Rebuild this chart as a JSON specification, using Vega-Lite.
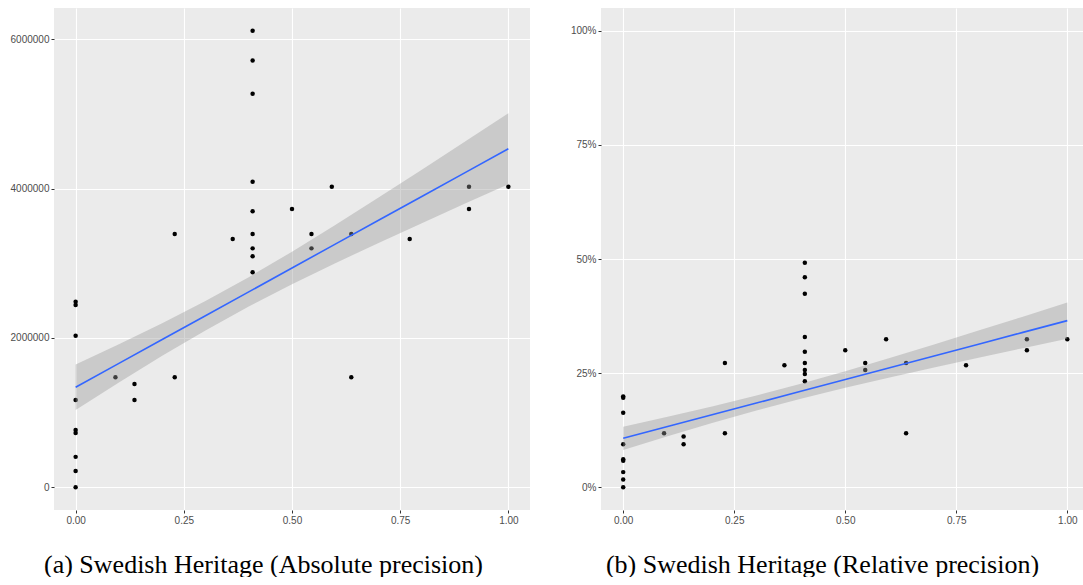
{
  "$schema": "https://vega.github.io/schema/vega-lite/v6.json",
  "background": "white",
  "padding": {"left": 10, "top": 8, "right": 0, "bottom": 0},
  "spacing": 40,
  "config": {
    "view": {"fill": "#EBEBEB", "stroke": null},
    "axis": {
      "domain": false,
      "grid": true,
      "gridColor": "white",
      "gridWidth": 1.1,
      "tickColor": "#333333",
      "tickSize": 3,
      "labelColor": "#4D4D4D",
      "labelFont": "Liberation Sans",
      "labelFontSize": 10,
      "labelPadding": 2
    }
  },
  "datasets": {
    "pts": [
      {"x": 0, "abs": 2486000, "rel": 0.199},
      {"x": 0, "abs": 2441000, "rel": 0.196},
      {"x": 0, "abs": 2030000, "rel": 0.163},
      {"x": 0, "abs": 1169000, "rel": 0.094},
      {"x": 0, "abs": 767000, "rel": 0.061},
      {"x": 0, "abs": 727000, "rel": 0.058},
      {"x": 0, "abs": 406000, "rel": 0.033},
      {"x": 0, "abs": 218000, "rel": 0.017},
      {"x": 0, "abs": 0, "rel": 0},
      {"x": 0.092, "abs": 1473000, "rel": 0.118},
      {"x": 0.136, "abs": 1383000, "rel": 0.111},
      {"x": 0.136, "abs": 1169000, "rel": 0.094},
      {"x": 0.229, "abs": 3392000, "rel": 0.272},
      {"x": 0.229, "abs": 1473000, "rel": 0.118},
      {"x": 0.363, "abs": 3325000, "rel": 0.267},
      {"x": 0.409, "abs": 6115000, "rel": 0.492},
      {"x": 0.409, "abs": 5718000, "rel": 0.460},
      {"x": 0.409, "abs": 5272000, "rel": 0.424},
      {"x": 0.409, "abs": 4093000, "rel": 0.329},
      {"x": 0.409, "abs": 3696000, "rel": 0.297},
      {"x": 0.409, "abs": 3392000, "rel": 0.272},
      {"x": 0.409, "abs": 3200000, "rel": 0.257},
      {"x": 0.409, "abs": 3093000, "rel": 0.248},
      {"x": 0.409, "abs": 2879000, "rel": 0.232},
      {"x": 0.5, "abs": 3727000, "rel": 0.300},
      {"x": 0.545, "abs": 3392000, "rel": 0.272},
      {"x": 0.545, "abs": 3200000, "rel": 0.257},
      {"x": 0.592, "abs": 4026000, "rel": 0.324},
      {"x": 0.637, "abs": 3392000, "rel": 0.272},
      {"x": 0.637, "abs": 1473000, "rel": 0.118},
      {"x": 0.772, "abs": 3325000, "rel": 0.267},
      {"x": 0.909, "abs": 4026000, "rel": 0.324},
      {"x": 0.909, "abs": 3727000, "rel": 0.300},
      {"x": 1, "abs": 4026000, "rel": 0.324}
    ],
    "fit": [
      {"x": 0, "abs_fit": 1339000, "abs_lo": 1035000, "abs_hi": 1643000, "rel_fit": 0.107, "rel_lo": 0.0817, "rel_hi": 0.1323},
      {"x": 0.1, "abs_fit": 1659000, "abs_lo": 1403000, "abs_hi": 1914000, "rel_fit": 0.1328, "rel_lo": 0.1115, "rel_hi": 0.1541},
      {"x": 0.2, "abs_fit": 1978000, "abs_lo": 1760000, "abs_hi": 2196000, "rel_fit": 0.1586, "rel_lo": 0.1405, "rel_hi": 0.1767},
      {"x": 0.3, "abs_fit": 2298000, "abs_lo": 2101000, "abs_hi": 2494000, "rel_fit": 0.1844, "rel_lo": 0.1680, "rel_hi": 0.2008},
      {"x": 0.4, "abs_fit": 2617000, "abs_lo": 2421000, "abs_hi": 2814000, "rel_fit": 0.2102, "rel_lo": 0.1938, "rel_hi": 0.2266},
      {"x": 0.5, "abs_fit": 2937000, "abs_lo": 2719000, "abs_hi": 3155000, "rel_fit": 0.236, "rel_lo": 0.2179, "rel_hi": 0.2541},
      {"x": 0.6, "abs_fit": 3257000, "abs_lo": 3001000, "abs_hi": 3512000, "rel_fit": 0.2618, "rel_lo": 0.2405, "rel_hi": 0.2831},
      {"x": 0.7, "abs_fit": 3576000, "abs_lo": 3273000, "abs_hi": 3880000, "rel_fit": 0.2876, "rel_lo": 0.2624, "rel_hi": 0.3128},
      {"x": 0.8, "abs_fit": 3896000, "abs_lo": 3538000, "abs_hi": 4253000, "rel_fit": 0.3134, "rel_lo": 0.2837, "rel_hi": 0.3431},
      {"x": 0.9, "abs_fit": 4215000, "abs_lo": 3800000, "abs_hi": 4631000, "rel_fit": 0.3392, "rel_lo": 0.3047, "rel_hi": 0.3737},
      {"x": 1, "abs_fit": 4535000, "abs_lo": 4060000, "abs_hi": 5010000, "rel_fit": 0.365, "rel_lo": 0.3255, "rel_hi": 0.4045}
    ]
  },
  "hconcat": [
    {
      "width": 476,
      "height": 502,
      "layer": [
        {
          "data": {"name": "pts"},
          "mark": {"type": "circle", "size": 20, "color": "black", "opacity": 1},
          "encoding": {
            "x": {"field": "x", "type": "quantitative",
              "scale": {"domain": [-0.05, 1.05], "nice": false, "zero": false},
              "axis": {"values": [0, 0.25, 0.5, 0.75, 1], "format": ".2f", "title": "(a) Swedish Heritage (Absolute precision)",
                "titleFont": "Liberation Serif", "titleFontSize": 26, "titleFontWeight": "normal", "titleColor": "black",
                "titlePadding": 26, "titleX": 209}},
            "y": {"field": "abs", "type": "quantitative",
              "scale": {"domain": [-306000, 6421000], "nice": false, "zero": false},
              "axis": {"values": [0, 2000000, 4000000, 6000000], "format": "d", "title": null}}
          }
        },
        {
          "data": {"name": "fit"},
          "mark": {"type": "area", "color": "#999999", "opacity": 0.4},
          "encoding": {
            "x": {"field": "x", "type": "quantitative",
              "scale": {"domain": [-0.05, 1.05], "nice": false, "zero": false},
              "axis": {"orient": "top", "values": [0.125, 0.375, 0.625, 0.875], "gridWidth": 0.5, "labels": false, "ticks": false, "title": null}},
            "y": {"field": "abs_lo", "type": "quantitative",
              "scale": {"domain": [-306000, 6421000], "nice": false, "zero": false},
              "axis": {"orient": "right", "values": [1000000, 3000000, 5000000], "gridWidth": 0.5, "labels": false, "ticks": false, "title": null}},
            "y2": {"field": "abs_hi"}
          }
        },
        {
          "data": {"name": "fit"},
          "mark": {"type": "line", "color": "#3366FF", "strokeWidth": 1.6},
          "encoding": {
            "x": {"field": "x", "type": "quantitative", "scale": {"domain": [-0.05, 1.05], "nice": false, "zero": false}, "axis": null},
            "y": {"field": "abs_fit", "type": "quantitative", "scale": {"domain": [-306000, 6421000], "nice": false, "zero": false}, "axis": null}
          }
        }
      ],
      "resolve": {"axis": {"x": "independent", "y": "independent"}}
    },
    {
      "width": 483,
      "height": 502,
      "layer": [
        {
          "data": {"name": "pts"},
          "mark": {"type": "circle", "size": 20, "color": "black", "opacity": 1},
          "encoding": {
            "x": {"field": "x", "type": "quantitative",
              "scale": {"domain": [-0.05, 1.0376], "nice": false, "zero": false},
              "axis": {"values": [0, 0.25, 0.5, 0.75, 1], "format": ".2f", "title": "(b) Swedish Heritage (Relative precision)",
                "titleFont": "Liberation Serif", "titleFontSize": 26, "titleFontWeight": "normal", "titleColor": "black",
                "titlePadding": 26, "titleX": 221}},
            "y": {"field": "rel", "type": "quantitative",
              "scale": {"domain": [-0.05, 1.05], "nice": false, "zero": false},
              "axis": {"values": [0, 0.25, 0.5, 0.75, 1], "format": ".0%", "title": null}}
          }
        },
        {
          "data": {"name": "fit"},
          "mark": {"type": "area", "color": "#999999", "opacity": 0.4},
          "encoding": {
            "x": {"field": "x", "type": "quantitative",
              "scale": {"domain": [-0.05, 1.0376], "nice": false, "zero": false},
              "axis": {"orient": "top", "values": [0.125, 0.375, 0.625, 0.875], "gridWidth": 0.5, "labels": false, "ticks": false, "title": null}},
            "y": {"field": "rel_lo", "type": "quantitative",
              "scale": {"domain": [-0.05, 1.05], "nice": false, "zero": false},
              "axis": {"orient": "right", "values": [0.125, 0.375, 0.625, 0.875], "gridWidth": 0.5, "labels": false, "ticks": false, "title": null}},
            "y2": {"field": "rel_hi"}
          }
        },
        {
          "data": {"name": "fit"},
          "mark": {"type": "line", "color": "#3366FF", "strokeWidth": 1.6},
          "encoding": {
            "x": {"field": "x", "type": "quantitative", "scale": {"domain": [-0.05, 1.0376], "nice": false, "zero": false}, "axis": null},
            "y": {"field": "rel_fit", "type": "quantitative", "scale": {"domain": [-0.05, 1.05], "nice": false, "zero": false}, "axis": null}
          }
        }
      ],
      "resolve": {"axis": {"x": "independent", "y": "independent"}}
    }
  ]
}
